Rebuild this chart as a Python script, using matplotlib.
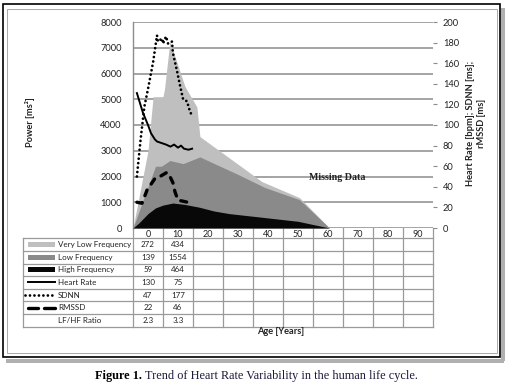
import matplotlib
matplotlib.use("Agg")
import matplotlib.pyplot as plt
from matplotlib.patches import Rectangle

plt.rcParams['font.family'] = ['Lato', 'DejaVu Sans']

# ---- data ----
vlf_age = [-5, 0, 1.7, 5, 5.5, 7.3, 12.3, 16.3, 17.3, 38, 50.5, 60.5]
vlf_top = [0, 3000, 5100, 5100, 5400, 7250, 5500, 4700, 3550, 1800, 1180, 0]

lf_age = [-5, 2.5, 4.5, 7.3, 11.7, 17.3, 30, 39, 50.5, 60.5]
lf_top = [0, 2400, 2400, 2620, 2500, 2760, 2080, 1570, 1100, 0]

hf_age = [-5, -3, 0, 2.5, 5, 8.3, 12, 17, 22, 27, 37, 50, 60.5]
hf_top = [0, 200, 560, 780, 890, 970, 920, 810, 660, 560, 430, 260, 0]

hr_age = [-3.7, -1.7, 0, 1, 2.3, 3, 4.5, 6, 7.5, 8.7, 10, 11, 12, 13.5, 14.7]
hr = [131, 112, 100, 92, 86, 84, 82.5, 81, 79, 81, 78, 80, 77, 76, 77]

sdnn_age = [-3.7, -2.5, -1.2, 0, 1.7, 3, 3.3, 4.7, 5, 6, 6.7, 8, 8.3, 9.7, 10.7, 11.7, 13, 14, 14.7]
sdnn = [50, 85, 118, 135, 161, 187, 181, 184, 179, 186, 179, 181, 170, 152, 138, 125, 123, 113, 109]

rmssd_age = [-3.7, -2, -0.3, 2.3, 4, 6.3, 7, 8.3, 9, 10, 11.7, 14.7]
rmssd = [25, 24, 37, 48, 50, 54, 52, 44, 35, 27, 26, 24]

ages = [0, 10, 20, 30, 40, 50, 60, 70, 80, 90]
row_names = ['Very Low Frequency', 'Low Frequency', 'High Frequency',
             'Heart Rate', 'SDNN', 'RMSSD', 'LF/HF Ratio']
col0_vals = ['272', '139', '59', '130', '47', '22', '2.3']
col10_vals = ['434', '1554', '464', '75', '177', '46', '3.3']

C_VLF, C_LF, C_HF = '#bfbfbf', '#8a8a8a', '#080808'
GRID = '#8c8c8c'
TAB = '#9a9a9a'
TXT = '#222222'

W, H = 508, 387
fig = plt.figure(figsize=(W / 100, H / 100), dpi=100, facecolor='white')

# overlay in pixel coordinates for frame, table and captions
ov = fig.add_axes([0, 0, 1, 1], zorder=0)
ov.set_xlim(0, W)
ov.set_ylim(H, 0)
ov.axis('off')

# main plot area
L, T, R, B = 133, 22, 433, 228
ax = fig.add_axes([L / W, 1 - B / H, (R - L) / W, (B - T) / H], zorder=1)
ax.set_xlim(-5, 95)
ax.set_ylim(0, 8000)
ax.set_yticks(range(0, 8001, 1000))
ax.grid(axis='y', color=GRID, lw=1.1, zorder=0)
ax.set_axisbelow(True)
for s in ['top', 'right', 'bottom']:
    ax.spines[s].set_visible(False)
ax.spines['left'].set_color(GRID)
ax.spines['left'].set_linewidth(1.0)
ax.tick_params(axis='y', length=0, pad=8, labelsize=6.7, labelcolor=TXT)
ax.set_xticks(ages)
ax.set_xticklabels([str(a) for a in ages])
ax.tick_params(axis='x', length=0, pad=1.5, labelsize=6.5, labelcolor=TXT)

ax.fill_between(vlf_age, 0, vlf_top, color=C_VLF, lw=0, zorder=2)
ax.fill_between(lf_age, 0, lf_top, color=C_LF, lw=0, zorder=3)
ax.fill_between(hf_age, 0, hf_top, color=C_HF, lw=0, zorder=4)
ax.text(63, 1980, 'Missing Data', family='Liberation Serif', weight='bold',
        fontsize=7.2, ha='center', va='center', color=TXT, zorder=5)

ax2 = ax.twinx()
ax2.set_zorder(2)
ax2.set_ylim(0, 200)
ax2.set_yticks(range(0, 201, 20))
for s in ax2.spines.values():
    s.set_visible(False)
ax2.tick_params(axis='y', length=3, color=GRID, width=0.8, pad=4,
                labelsize=6.7, labelcolor=TXT)
ax2.plot(hr_age, hr, color='black', lw=1.4)
ax2.plot(sdnn_age, sdnn, color='black', lw=2.0, linestyle=(0, (0.01, 1.6)),
         dash_capstyle='round')
ax2.plot(rmssd_age, rmssd, color='black', lw=2.4, linestyle=(0, (1.8, 2.2)),
         dash_capstyle='round')

# axis titles
ov.text(30, 122, 'Power [ms²]', rotation=90, ha='center', va='center',
        fontsize=6.7, weight='bold', color=TXT)
ov.text(476, 123, 'Heart Rate [bpm]; SDNN [ms];\nrMSSD [ms]', rotation=90,
        ha='center', va='center', ma='center', fontsize=6.7, weight='bold',
        color=TXT)
ov.text(281, 332, 'Age [Years]', ha='center', va='center', fontsize=6.7,
        weight='bold', color=TXT)

# data table
row_h = 12.6
top = 238.3
nrows = len(row_names)
for k in range(nrows + 1):
    y = top + row_h * k
    ov.plot([23, R], [y, y], color=TAB, lw=0.9)
ov.plot([23, 23], [top, top + row_h * nrows], color=TAB, lw=0.9)
for i in range(len(ages) + 1):
    x = L + 30 * i
    ov.plot([x, x], [B, top + row_h * nrows], color=TAB, lw=0.9)

for k, name in enumerate(row_names):
    yc = top + row_h * (k + 0.5)
    ov.text(58, yc, name, ha='left', va='center', fontsize=5.8, color=TXT)
    ov.text(L + 15, yc, col0_vals[k], ha='center', va='center', fontsize=5.8,
            color=TXT)
    ov.text(L + 45, yc, col10_vals[k], ha='center', va='center', fontsize=5.8,
            color=TXT)
    if k < 3:
        c = [C_VLF, C_LF, C_HF][k]
        ov.add_patch(Rectangle((28, yc - 2.5), 27, 5, color=c, lw=0))
    elif k == 3:
        ov.plot([28, 55], [yc, yc], color='black', lw=1.4)
    elif k == 4:
        ov.plot([25, 55], [yc, yc], color='black', lw=2.0,
                linestyle=(0, (0.01, 1.6)), dash_capstyle='round')
    elif k == 5:
        ov.plot([28, 38], [yc, yc], color='black', lw=2.4, solid_capstyle='round')
        ov.plot([44, 55], [yc, yc], color='black', lw=2.4, solid_capstyle='round')

# frame with shadow
ov.add_patch(Rectangle((6, 359), 498, 4, color='#b0b0b0', lw=0))
ov.add_patch(Rectangle((501, 8), 4, 353, color='#b0b0b0', lw=0))
ov.add_patch(Rectangle((3, 4), 497, 353, fill=False, ec='black', lw=1.2))
ov.add_patch(Rectangle((7, 9), 490, 344, fill=False, ec='#aaaaaa', lw=0.7))

# caption: bold label then normal text placed right after it
renderer = fig.canvas.get_renderer()
cap1 = ov.text(95, 376, 'Figure 1.', family='Liberation Serif', weight='bold',
               fontsize=8.8, ha='left', va='center', color='black')
bb = cap1.get_window_extent(renderer=renderer)
x_next = bb.x1 + 3.5  # pixels (dpi 100, figure pixels == overlay units)
ov.text(x_next, 376, 'Trend of Heart Rate Variability in the human life cycle.',
        family='Liberation Serif', fontsize=8.8, ha='left', va='center',
        color='#1a1a3a')

fig.savefig('out.png', dpi=100, facecolor='white')
